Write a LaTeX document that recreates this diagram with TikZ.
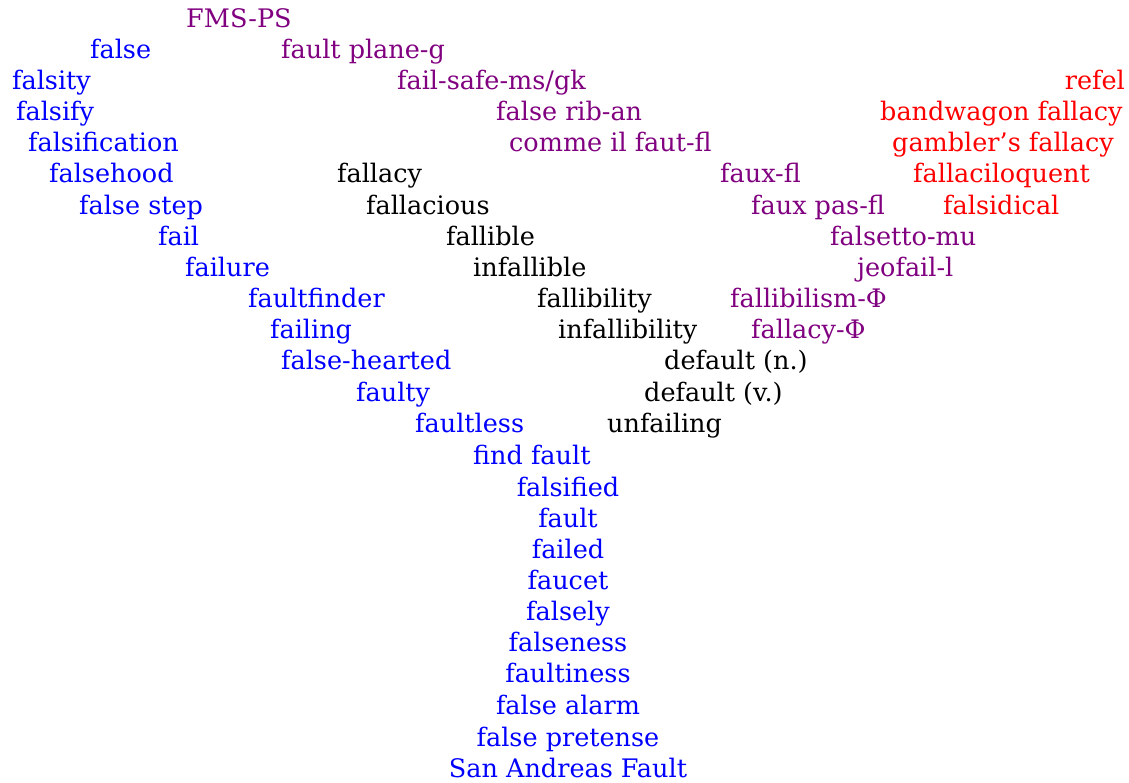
\documentclass[tikz,border=0pt]{standalone}
\usepackage{fontspec}
\setmainfont{DejaVu Serif}
\usetikzlibrary{positioning}
\definecolor{wblue}{RGB}{0,0,255}
\definecolor{wpurple}{RGB}{128,0,128}
\definecolor{wred}{RGB}{255,0,0}

\begin{document}
\begin{tikzpicture}[
        x=1pt, y=-1pt,
        word/.style={inner sep=0pt, anchor=mid west, yshift=-6.5pt, font=\fontsize{25.5}{30}\selectfont},
        english/.style={word, text=wblue},
        borrowed/.style={word, text=wpurple},
        fallacy/.style={word, text=wred},
        latin/.style={word, text=black},
        stem/.style={english, anchor=mid}
    ]
        \useasboundingbox (0,0) rectangle (1129,782);

        % left branch
        \node[english] (false) at (90,49) {false};
        \node[english] (falsity) at (12,80) {falsity};
        \node[english] (falsify) at (16,111) {falsify};
        \node[english] (falsification) at (28,142) {falsification};
        \node[english] (falsehood) at (49,173) {falsehood};
        \node[english] (falsestep) at (79,205) {false step};
        \node[english] (fail) at (158,236) {fail};
        \node[english] (failure) at (185,267) {failure};
        \node[english] (faultfinder) at (248,298) {faultfinder};
        \node[english] (failing) at (270,329) {failing};
        \node[english] (falsehearted) at (281,360) {false-hearted};
        \node[english] (faulty) at (356,392) {faulty};
        \node[english] (faultless) at (415,423) {faultless};
        \node[english] (findfault) at (473,455) {find fault};

        % stem
        \node[stem] (falsified) at (568,487) {falsified};
        \node[stem] (fault) at (568,518) {fault};
        \node[stem] (failed) at (568,549) {failed};
        \node[stem] (faucet) at (568,580) {faucet};
        \node[stem] (falsely) at (568,611) {falsely};
        \node[stem] (falseness) at (568,642) {falseness};
        \node[stem] (faultiness) at (568,673) {faultiness};
        \node[stem] (falsealarm) at (568,705) {false alarm};
        \node[stem] (falsepretense) at (568,737) {false pretense};
        \node[stem] (sanandreas) at (568,768) {San Andreas Fault};

        % middle branch
        \node[latin] (fallacy) at (337,173) {fallacy};
        \node[latin] (fallacious) at (366,205) {fallacious};
        \node[latin] (fallible) at (446,236) {fallible};
        \node[latin] (infallible) at (473,267) {infallible};
        \node[latin] (fallibility) at (537,298) {fallibility};
        \node[latin] (infallibility) at (558,329) {infallibility};
        \node[latin] (defaultn) at (664,360) {default (n.)};
        \node[latin] (defaultv) at (644,392) {default (v.)};
        \node[latin] (unfailing) at (607,423) {unfailing};

        % borrowed forms
        \node[borrowed] (fmsps) at (186,18) {FMS-PS};
        \node[borrowed] (faultplane) at (281,49) {fault plane-g};
        \node[borrowed] (failsafe) at (397,80) {fail-safe-ms/gk};
        \node[borrowed] (falserib) at (496,111) {false rib-an};
        \node[borrowed] (commeilfaut) at (509,142) {comme il faut-fl};
        \node[borrowed] (faux) at (720,173) {faux-fl};
        \node[borrowed] (fauxpas) at (751,205) {faux pas-fl};
        \node[borrowed] (falsetto) at (830,236) {falsetto-mu};
        \node[borrowed] (jeofail) at (857,267) {jeofail-l};
        \node[borrowed] (fallibilism) at (730,298) {fallibilism-Φ};
        \node[borrowed] (fallacyphi) at (751,329) {fallacy-Φ};

        % fallacies
        \node[fallacy, anchor=mid east] (refel) at (1125,80) {refel};
        \node[fallacy] (bandwagon) at (880,111) {bandwagon fallacy};
        \node[fallacy] (gambler) at (892,142) {gambler’s fallacy};
        \node[fallacy] (fallaciloquent) at (913,173) {fallaciloquent};
        \node[fallacy] (falsidical) at (943,205) {falsidical};

    \end{tikzpicture}
\end{document}
